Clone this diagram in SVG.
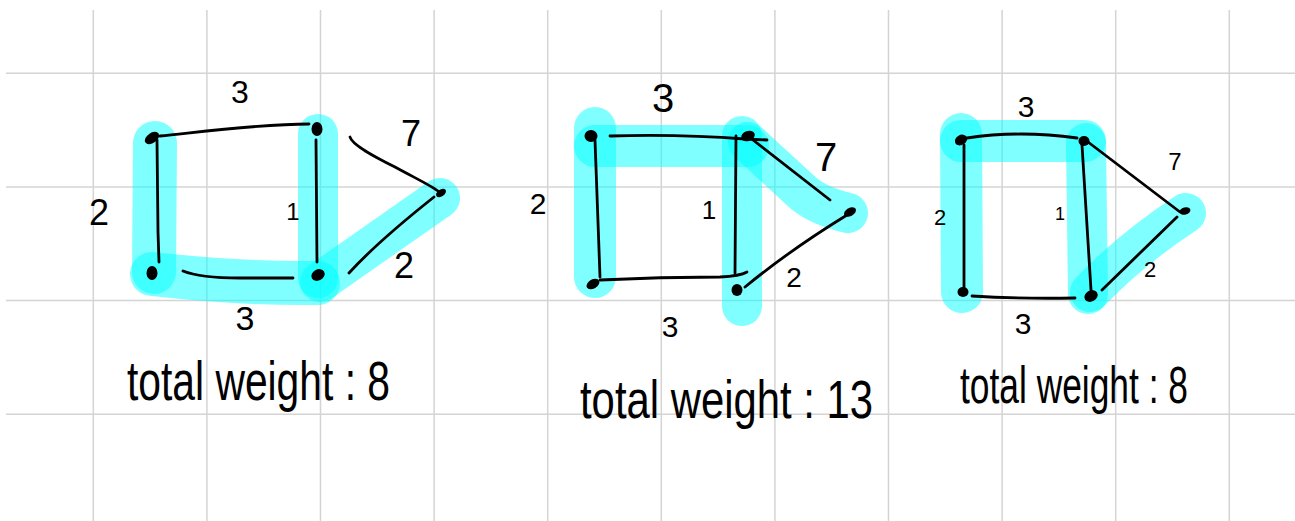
<svg xmlns="http://www.w3.org/2000/svg" width="1295" height="521" viewBox="0 0 1295 521">
<style>
.grid line{stroke:#d4d4d4;stroke-width:1.5}
.hl{fill:none;stroke:#00ffff;stroke-opacity:0.5;stroke-linecap:round;stroke-linejoin:round}
.edge{fill:none;stroke:#000;stroke-width:2.8;stroke-linecap:round;stroke-linejoin:round}
.node{fill:#000}
.lbl{font-family:"Liberation Sans",Arial,sans-serif;fill:#000;text-anchor:middle}
.cap{font-family:"Liberation Sans",Arial,sans-serif;fill:#000}
</style>
<rect width="1295" height="521" fill="#fff"/>
<g class="grid" id="grid">
<line x1="6" y1="73.3" x2="1295" y2="73.3"/>
<line x1="6" y1="187" x2="1295" y2="187"/>
<line x1="6" y1="300.6" x2="1295" y2="300.6"/>
<line x1="6" y1="414.3" x2="1295" y2="414.3"/>
<line x1="93.3" y1="10" x2="93.3" y2="521"/>
<line x1="206.9" y1="10" x2="206.9" y2="521"/>
<line x1="320.5" y1="10" x2="320.5" y2="521"/>
<line x1="434.1" y1="10" x2="434.1" y2="521"/>
<line x1="547.7" y1="10" x2="547.7" y2="521"/>
<line x1="661.3" y1="10" x2="661.3" y2="521"/>
<line x1="774.9" y1="10" x2="774.9" y2="521"/>
<line x1="888.5" y1="10" x2="888.5" y2="521"/>
<line x1="1002.1" y1="10" x2="1002.1" y2="521"/>
<line x1="1115.7" y1="10" x2="1115.7" y2="521"/>
<line x1="1229.3" y1="10" x2="1229.3" y2="521"/>
</g>
<g id="highlights">
<path class="hl" stroke-width="44" d="M155,143 L154,272"/>
<path class="hl" stroke-width="44" d="M152,274 Q240,284 318,283"/>
<path class="hl" stroke-width="40" d="M318,134 L318,278"/>
<path class="hl" stroke-width="40" d="M320,282 L440,198"/>
<path class="hl" stroke-width="42" d="M595,128 L595,277"/>
<path class="hl" stroke-width="42" d="M595,146 L748,146"/>
<path class="hl" stroke-width="40" d="M742,136 L742,306"/>
<path class="hl" stroke-width="40" d="M748,142 L800,190 Q815,205 848,213"/>
<path class="hl" stroke-width="42" d="M961,134 L962,292"/>
<path class="hl" stroke-width="42" d="M961,141 L1085,141"/>
<path class="hl" stroke-width="40" d="M1086,143 L1088,294"/>
<path class="hl" stroke-width="40" d="M1090,292 Q1130,250 1186,213"/>
</g>
<g id="connectors">
<path class="edge" d="M160,136 C200,132 260,124 309,124"/>
<path class="edge" d="M157,140 L158,232 L159,262"/>
<path class="edge" d="M183,271 Q200,278 240,278 L293,278"/>
<path class="edge" d="M316,140 L317,262"/>
<path class="edge" d="M350,137 C352,145 375,157 395,167 C415,178 430,185 438,191"/>
<path class="edge" d="M349,273 C370,250 405,220 434,197"/>
<path class="edge" d="M610,136 Q680,134 745,139 L767,140"/>
<path class="edge" d="M736,136 L735,273"/>
<path class="edge" d="M600,280 Q660,277 720,277 Q740,276 747,272"/>
<path class="edge" d="M595,140 L600,277"/>
<path class="edge" d="M753,140 L830,200"/>
<path class="edge" d="M745,287 Q790,250 847,215"/>
<path class="edge" d="M967,138 Q1020,130 1077,138"/>
<path class="edge" d="M964,145 L964,288"/>
<path class="edge" d="M972,296 Q1020,299 1075,298"/>
<path class="edge" d="M1082,145 L1091,290"/>
<path class="edge" d="M1088,142 L1180,212"/>
<path class="edge" d="M1102,290 L1177,217"/>
</g>
<g id="graph1">
<g id="g1-a"><ellipse class="node" cx="152" cy="138" rx="8" ry="5" transform="rotate(-35 152 138)"/></g>
<g id="g1-b"><ellipse class="node" cx="317" cy="129" rx="5.5" ry="7"/></g>
<g id="g1-c"><ellipse class="node" cx="152" cy="273" rx="5.5" ry="7"/></g>
<g id="g1-d"><ellipse class="node" cx="318" cy="275" rx="7" ry="5.5" transform="rotate(-30 318 275)"/></g>
<g id="g1-e"><ellipse class="node" cx="441" cy="193" rx="5.5" ry="3.5" transform="rotate(-35 441 193)"/></g>
<text class="lbl" x="240" y="103" font-size="32">3</text>
<text class="lbl" x="99" y="225" font-size="36">2</text>
<text class="lbl" x="293" y="220" font-size="24">1</text>
<text class="lbl" x="411" y="146" font-size="36">7</text>
<text class="lbl" x="404" y="278" font-size="36">2</text>
<text class="lbl" x="245" y="330" font-size="34">3</text>
<text class="cap" x="127" y="400" font-size="56" textLength="263" lengthAdjust="spacingAndGlyphs">total weight : 8</text>
</g>
<g id="graph2">
<g id="g2-a"><ellipse class="node" cx="591" cy="136" rx="6.5" ry="6"/></g>
<g id="g2-b"><ellipse class="node" cx="748" cy="136" rx="7" ry="5" transform="rotate(-20 748 136)"/></g>
<g id="g2-c"><ellipse class="node" cx="593" cy="284" rx="7" ry="4.5" transform="rotate(-30 593 284)"/></g>
<g id="g2-d"><ellipse class="node" cx="737" cy="290" rx="5.5" ry="6"/></g>
<g id="g2-e"><ellipse class="node" cx="850" cy="212" rx="6.5" ry="4" transform="rotate(-30 850 212)"/></g>
<text class="lbl" x="663" y="112" font-size="40">3</text>
<text class="lbl" x="538" y="214" font-size="30">2</text>
<text class="lbl" x="709" y="219" font-size="26">1</text>
<text class="lbl" x="826" y="171" font-size="40">7</text>
<text class="lbl" x="794" y="287" font-size="28">2</text>
<text class="lbl" x="670" y="337" font-size="30">3</text>
<text class="cap" x="580" y="418" font-size="54" textLength="293" lengthAdjust="spacingAndGlyphs">total weight : 13</text>
</g>
<g id="graph3">
<g id="g3-a"><ellipse class="node" cx="961" cy="140" rx="6.5" ry="5" transform="rotate(-30 961 140)"/></g>
<g id="g3-b"><ellipse class="node" cx="1084" cy="141" rx="5.5" ry="5"/></g>
<g id="g3-c"><ellipse class="node" cx="963" cy="292" rx="5.5" ry="5"/></g>
<g id="g3-d"><ellipse class="node" cx="1091" cy="296" rx="7" ry="5.5" transform="rotate(-30 1091 296)"/></g>
<g id="g3-e"><ellipse class="node" cx="1185" cy="211" rx="5.5" ry="3.5" transform="rotate(-15 1185 211)"/></g>
<text class="lbl" x="1026" y="117" font-size="30">3</text>
<text class="lbl" x="940" y="225" font-size="22">2</text>
<text class="lbl" x="1060" y="220" font-size="18">1</text>
<text class="lbl" x="1175" y="170" font-size="24">7</text>
<text class="lbl" x="1150" y="277" font-size="22">2</text>
<text class="lbl" x="1023" y="334" font-size="30">3</text>
<text class="cap" x="960" y="403" font-size="52" textLength="228" lengthAdjust="spacingAndGlyphs">total weight : 8</text>
</g>
</svg>
